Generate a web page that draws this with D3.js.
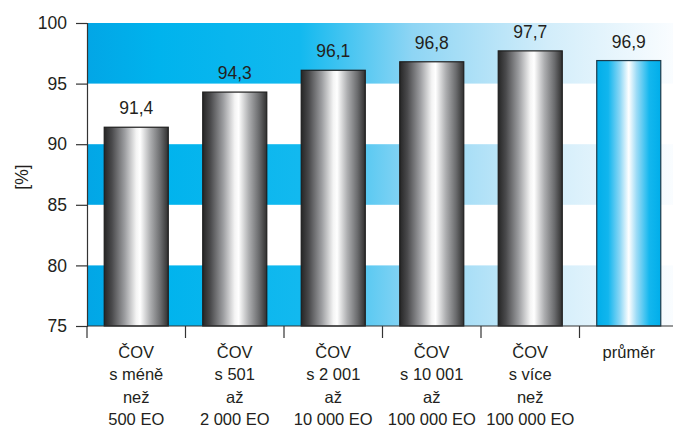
<!DOCTYPE html>
<html lang="en">
<head>
<meta charset="utf-8">
<script src="https://cdn.jsdelivr.net/npm/d3@7"></script>
<style>
    body { margin: 0; background: #fff; }
    svg text { font-family: "Liberation Sans", Arial, sans-serif; fill: #231f20; }
</style>
</head>
<body>
<div id="chart"></div>
<script>
    // chart data
    const categories = ["ČOV s méně", "ČOV s 501", "ČOV s 2 001", "ČOV s 10 001", "ČOV s více", "průměr"];
    const labelLines = [
        ["ČOV", "s méně", "než", "500 EO"],
        ["ČOV", "s 501", "až", "2 000 EO"],
        ["ČOV", "s 2 001", "až", "10 000 EO"],
        ["ČOV", "s 10 001", "až", "100 000 EO"],
        ["ČOV", "s více", "než", "100 000 EO"],
        ["průměr"]
    ];
    const values = [91.4, 94.3, 96.1, 96.8, 97.7, 96.9];
    const yTicks = [75, 80, 85, 90, 95, 100];
    const stripes = [[95, 100], [85, 90], [75, 80]];

    const width = 673, height = 428;
    const margin = {top: 23, right: -5, bottom: 102, left: 87};

    const svg = d3.select("#chart").append("svg")
        .attr("width", width)
        .attr("height", height);

    const x = d3.scaleBand()
        .domain(categories)
        .range([margin.left, width - margin.right])
        .paddingInner(0.35)
        .paddingOuter(0.175);

    const y = d3.scaleLinear()
        .domain([75, 100])
        .range([height - margin.bottom, margin.top]);

    const defs = svg.append("defs");

    // background stripe gradient (cyan fading to white)
    const bg = defs.append("linearGradient")
        .attr("id", "bgGrad")
        .attr("gradientUnits", "userSpaceOnUse")
        .attr("x1", margin.left).attr("x2", width - margin.right)
        .attr("y1", 0).attr("y2", 0);
    [[0, "#02a6e6"], [0.12, "#00b3ed"], [0.36, "#12b9ef"], [0.55, "#8ed5f4"], [0.78, "#d2edfa"], [1, "#fbfdff"]]
        .forEach(s => bg.append("stop").attr("offset", s[0]).attr("stop-color", s[1]));

    const grey = defs.append("linearGradient").attr("id", "greyGrad");
    [[0, "#262626"], [0.12, "#4a4a4c"], [0.32, "#9c9da0"], [0.5, "#f4f4f4"], [0.56, "#ffffff"], [0.72, "#adaeb0"], [0.88, "#6a6b6d"], [1, "#303030"]]
        .forEach(s => grey.append("stop").attr("offset", s[0]).attr("stop-color", s[1]));

    const blue = defs.append("linearGradient").attr("id", "blueGrad");
    [[0, "#00aeea"], [0.18, "#12b6ee"], [0.36, "#8ad6f5"], [0.5, "#ffffff"], [0.62, "#9edcf6"], [0.82, "#14b7ee"], [1, "#00aeea"]]
        .forEach(s => blue.append("stop").attr("offset", s[0]).attr("stop-color", s[1]));

    // stripes
    svg.append("g")
        .selectAll("rect")
        .data(stripes)
        .enter().append("rect")
        .attr("x", margin.left)
        .attr("width", width - margin.right - margin.left)
        .attr("y", d => y(d[1]))
        .attr("height", d => y(d[0]) - y(d[1]))
        .attr("fill", "url(#bgGrad)");

    // bars
    svg.append("g")
        .selectAll("rect")
        .data(values)
        .enter().append("rect")
        .attr("x", (d, i) => x(categories[i]))
        .attr("width", x.bandwidth())
        .attr("y", d => y(d))
        .attr("height", d => y(75) - y(d))
        .attr("fill", (d, i) => i === values.length - 1 ? "url(#blueGrad)" : "url(#greyGrad)")
        .attr("stroke", (d, i) => i === values.length - 1 ? "#1d3a4a" : "#1e1e1e")
        .attr("stroke-width", 1.2);

    // value labels
    svg.append("g")
        .selectAll("text")
        .data(values)
        .enter().append("text")
        .attr("x", (d, i) => x(categories[i]) + x.bandwidth() / 2)
        .attr("y", d => y(d) - 13)
        .attr("text-anchor", "middle")
        .style("font-size", "17.5px")
        .text(d => d.toFixed(1).replace(".", ","));

    // y axis
    const yAxis = svg.append("g")
        .attr("transform", `translate(${margin.left},0)`)
        .call(d3.axisLeft(y).tickValues(yTicks).tickSize(11).tickPadding(9));
    yAxis.select(".domain").attr("stroke", "#333").attr("stroke-width", 1.2);
    yAxis.selectAll(".tick line").attr("stroke", "#333").attr("stroke-width", 1.2);
    yAxis.selectAll(".tick text")
        .style("font-size", "17.5px")
        .style("font-family", "Liberation Sans, Arial, sans-serif")
        .attr("fill", "#231f20");

    // x axis line and ticks between categories
    const xb = svg.append("g");
    xb.append("line")
        .attr("x1", margin.left).attr("x2", width)
        .attr("y1", y(75)).attr("y2", y(75))
        .attr("stroke", "#333").attr("stroke-width", 1.2);
    xb.selectAll(".sep")
        .data(categories)
        .enter().append("line")
        .attr("class", "sep")
        .attr("x1", d => x(d) - x.step() * x.paddingOuter())
        .attr("x2", d => x(d) - x.step() * x.paddingOuter())
        .attr("y1", y(75)).attr("y2", y(75) + 12)
        .attr("stroke", "#333").attr("stroke-width", 1.2);

    // category labels
    xb.selectAll(".cat")
        .data(labelLines)
        .enter().append("text")
        .attr("class", "cat")
        .attr("text-anchor", "middle")
        .style("font-size", "16.5px")
        .each(function(lines, i) {
            const cx = x(categories[i]) + x.bandwidth() / 2;
            d3.select(this).selectAll("tspan")
                .data(lines)
                .enter().append("tspan")
                .attr("x", cx)
                .attr("y", (l, j) => 358 + j * 22.3)
                .text(l => l);
        });

    // axis title
    svg.append("text")
        .attr("transform", "translate(28,177) rotate(-90)")
        .attr("text-anchor", "middle")
        .style("font-size", "17.5px")
        .text("[%]");
</script>
</body>
</html>
